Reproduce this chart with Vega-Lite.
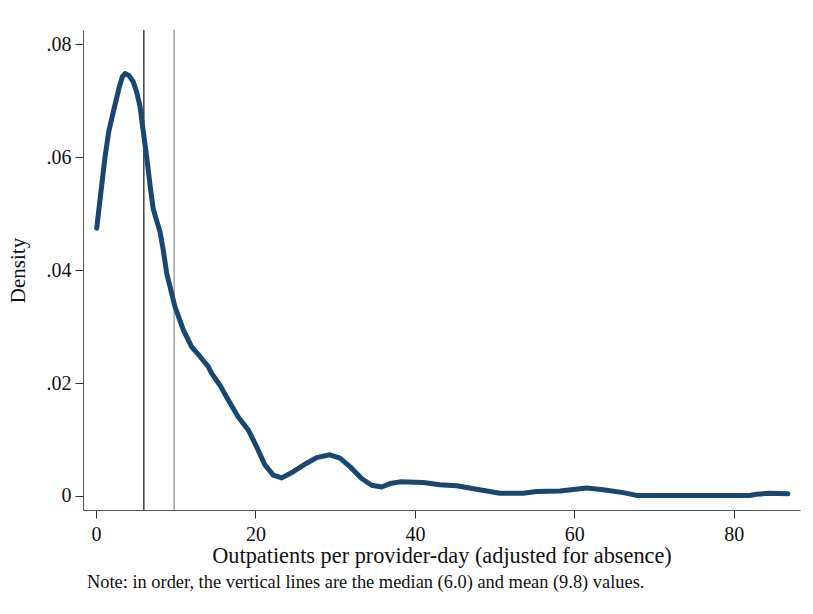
{
  "$schema": "https://vega.github.io/schema/vega-lite/v6.json",
  "width": 717,
  "height": 480,
  "autosize": "none",
  "padding": {"left": 83, "top": 30, "right": 13, "bottom": 104},
  "background": "white",
  "config": {
    "view": {"stroke": null},
    "font": "Liberation Serif",
    "axis": {"labelFont": "Liberation Serif", "titleFont": "Liberation Serif", "titleFontWeight": "normal", "domainColor": "#555555", "tickColor": "#333333", "labelColor": "#111111", "titleColor": "#111111", "grid": false}
  },
  "title": {"text": "Note: in order, the vertical lines are the median (6.0) and mean (9.8) values.", "orient": "bottom", "anchor": "start", "frame": "group", "font": "Liberation Serif", "fontSize": 18.4, "fontWeight": "normal", "color": "#111111", "offset": 7, "dx": 4},
  "datasets": {
    "kde": [
      {"x": 0.09, "y": 0.0474}, {"x": 0.5, "y": 0.0524}, {"x": 1.13, "y": 0.0600}, {"x": 1.6, "y": 0.0645},
      {"x": 2.17, "y": 0.0680}, {"x": 2.92, "y": 0.0724}, {"x": 3.3, "y": 0.0742}, {"x": 3.64, "y": 0.0748},
      {"x": 4.1, "y": 0.0745}, {"x": 4.68, "y": 0.0733}, {"x": 5.1, "y": 0.0715}, {"x": 5.52, "y": 0.0690},
      {"x": 5.93, "y": 0.0645}, {"x": 6.36, "y": 0.0600}, {"x": 6.8, "y": 0.0548}, {"x": 7.18, "y": 0.0508},
      {"x": 7.6, "y": 0.0488}, {"x": 8.03, "y": 0.0468}, {"x": 8.44, "y": 0.0435}, {"x": 8.87, "y": 0.0394},
      {"x": 9.91, "y": 0.0335}, {"x": 10.95, "y": 0.0294}, {"x": 12.0, "y": 0.0264}, {"x": 13.04, "y": 0.0247},
      {"x": 14.08, "y": 0.0229}, {"x": 14.51, "y": 0.0217}, {"x": 15.55, "y": 0.0196}, {"x": 16.59, "y": 0.0170},
      {"x": 17.84, "y": 0.0140}, {"x": 19.1, "y": 0.0117}, {"x": 20.15, "y": 0.0087}, {"x": 21.19, "y": 0.0055},
      {"x": 22.23, "y": 0.0037}, {"x": 23.29, "y": 0.0032}, {"x": 24.74, "y": 0.0043}, {"x": 26.42, "y": 0.0058},
      {"x": 27.67, "y": 0.0068}, {"x": 29.34, "y": 0.0073}, {"x": 30.6, "y": 0.0067}, {"x": 31.85, "y": 0.0052},
      {"x": 33.32, "y": 0.0031}, {"x": 34.57, "y": 0.0019}, {"x": 35.82, "y": 0.0016}, {"x": 36.87, "y": 0.0022},
      {"x": 38.12, "y": 0.0025}, {"x": 41.04, "y": 0.0024}, {"x": 43.13, "y": 0.0020}, {"x": 45.23, "y": 0.0018},
      {"x": 47.74, "y": 0.0012}, {"x": 50.66, "y": 0.0005}, {"x": 53.58, "y": 0.0005}, {"x": 55.26, "y": 0.0008},
      {"x": 58.18, "y": 0.0009}, {"x": 61.53, "y": 0.0014}, {"x": 63.61, "y": 0.0011}, {"x": 66.12, "y": 0.0006},
      {"x": 67.8, "y": 0.0001}, {"x": 71.97, "y": 0.0001}, {"x": 82.0, "y": 0.0001}, {"x": 82.85, "y": 0.0003},
      {"x": 84.5, "y": 0.0005}, {"x": 86.8, "y": 0.0004}
    ],
    "vlines": [
      {"stat": "median", "v": 6.0},
      {"stat": "mean", "v": 9.8}
    ]
  },
  "layer": [
    {
      "data": {"name": "vlines"},
      "mark": {"type": "rule", "strokeWidth": 1.4},
      "encoding": {
        "x": {"field": "v", "type": "quantitative", "scale": {"domain": [-1.63, 88.3], "nice": false, "zero": false}},
        "color": {"field": "stat", "type": "nominal", "scale": {"domain": ["median", "mean"], "range": ["#333333", "#9a9a9a"]}, "legend": null}
      }
    },
    {
      "data": {"name": "kde"},
      "mark": {"type": "line", "color": "#1a476f", "strokeWidth": 5, "strokeCap": "round", "strokeJoin": "round", "interpolate": "linear"},
      "encoding": {
        "x": {"field": "x", "type": "quantitative",
              "scale": {"domain": [-1.63, 88.3], "nice": false, "zero": false},
              "axis": {"values": [0, 20, 40, 60, 80], "title": "Outpatients per provider-day (adjusted for absence)", "titleFontSize": 22.3, "titlePadding": 0, "labelFontSize": 20, "tickSize": 8, "labelPadding": 6}},
        "y": {"field": "y", "type": "quantitative",
              "scale": {"domain": [-0.00248, 0.0825], "nice": false, "zero": false},
              "axis": {"values": [0, 0.02, 0.04, 0.06, 0.08], "labelExpr": "datum.value == 0 ? '0' : replace(format(datum.value, '.2f'), '0.', '.')", "title": "Density", "titleFontSize": 21, "titlePadding": 18, "labelFontSize": 20, "tickSize": 8, "labelPadding": 4}}
      }
    }
  ]
}
